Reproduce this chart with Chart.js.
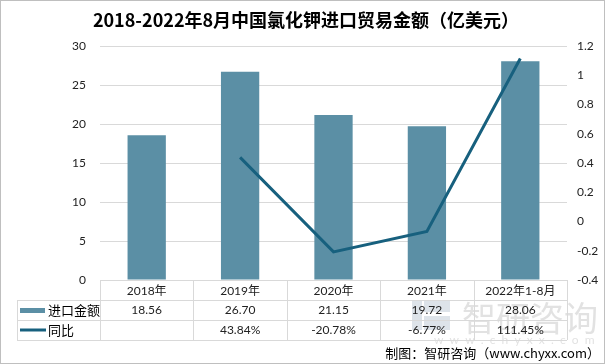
<!DOCTYPE html>
<html>
<head>
<meta charset="utf-8">
<script src="https://cdn.jsdelivr.net/npm/chart.js@4.4.1/dist/chart.umd.min.js"></script>
<style>
	html, body { margin: 0; padding: 0; background: #fff; }
	#wrap { width: 605px; height: 364px; }
</style>
</head>
<body>
<div id="wrap"><canvas id="c" width="605" height="364"></canvas></div>
<script>
// data
var years	= ["2018年", "2019年", "2020年", "2021年", "2022年1-8月"];
var importValue	= [18.56, 26.70, 21.15, 19.72, 28.06];	// 亿美元
var yoy		= [null, 43.84, -20.78, -6.77, 111.45];	// %
var seriesNames	= ["进口金额", "同比"];
var titleText	= "2018-2022年8月中国氯化钾进口贸易金额（亿美元）";
var sourceText	= "制图：智研咨询（www.chyxx.com）";

var barColor	= "#5B8FA5";
var lineColor	= "#17607E";
var gridColor	= "#D9D9D9";
var font	= "Lato, 'Noto Sans CJK SC', sans-serif";

var yoyRatio = yoy.map(function(v) { return v === null ? null : v / 100; });

function fmt2(v) { return v.toFixed(2); }

// title, data table, watermark, source note
var decor = {
	id: "decor",
	afterDraw: function(chart) {
		var ctx	= chart.ctx;
		var area	= chart.chartArea;
		var x	= chart.scales.x;
		var n	= years.length;
		var step	= (area.right - area.left) / n;
		var rowTop	= area.bottom;
		var rowH	= [20, 20, 20];
		var y1 = rowTop + rowH[0], y2 = y1 + rowH[1], y3 = y2 + rowH[2];
		var tableLeft = 17;

		ctx.save();

		// outer frame
		ctx.strokeStyle = "#BFBFBF";
		ctx.lineWidth = 1;
		ctx.strokeRect(0.5, 0.5, chart.width - 1, chart.height - 1);

		// title
		ctx.fillStyle = "#000";
		ctx.font = "bold 18px 'Noto Sans CJK SC', sans-serif";
		ctx.textAlign = "center";
		ctx.textBaseline = "middle";
		ctx.fillText(titleText, 306, 20);

		// watermark
		ctx.fillStyle = "rgba(190,190,190,0.45)";
		ctx.font = "34px 'Noto Sans CJK SC', sans-serif";
		ctx.textAlign = "left";
		ctx.fillText("智研咨询", 462, 318);
		ctx.font = "12px " + font;
		ctx.fillText("w  w  w  .  c  h  y  x  x  .  c  o  m", 434, 340);
		ctx.fillStyle = "rgba(170,185,200,0.4)";
		ctx.fillRect(412, 300, 10, 30);
		ctx.fillRect(424, 300, 26, 12);
		ctx.fillRect(424, 316, 26, 14);

		// table grid
		ctx.strokeStyle = gridColor;
		ctx.lineWidth = 1;
		ctx.beginPath();
		var i, cx;
		for (i = 0; i <= n; i++) {
			cx = Math.round(area.left + i * step) + 0.5;
			ctx.moveTo(cx, rowTop);
			ctx.lineTo(cx, y3);
		}
		ctx.moveTo(tableLeft + 0.5, y1);
		ctx.lineTo(tableLeft + 0.5, y3);
		[y1, y2, y3].forEach(function(yy) {
			ctx.moveTo(tableLeft, Math.round(yy) + 0.5);
			ctx.lineTo(area.right, Math.round(yy) + 0.5);
		});
		ctx.moveTo(area.left, Math.round(rowTop) + 0.5);
		ctx.lineTo(area.right, Math.round(rowTop) + 0.5);
		ctx.stroke();

		// header + values
		ctx.fillStyle = "#222";
		ctx.font = "12px " + font;
		ctx.textAlign = "center";
		ctx.textBaseline = "middle";
		for (i = 0; i < n; i++) {
			cx = x.getPixelForValue(i);
			ctx.fillText(years[i], cx, rowTop + rowH[0] / 2 + 1);
			ctx.fillText(fmt2(importValue[i]), cx, y1 + rowH[1] / 2);
			if (yoy[i] !== null) ctx.fillText(fmt2(yoy[i]) + "%", cx, y2 + rowH[2] / 2);
		}

		// legend keys
		ctx.fillStyle = barColor;
		ctx.fillRect(20, y1 + 8, 25, 5);
		ctx.strokeStyle = lineColor;
		ctx.lineWidth = 3;
		ctx.beginPath();
		ctx.moveTo(20, y2 + 10);
		ctx.lineTo(46, y2 + 10);
		ctx.stroke();
		ctx.fillStyle = "#000";
		ctx.font = "13px 'Noto Sans CJK SC', sans-serif";
		ctx.textAlign = "left";
		ctx.fillText(seriesNames[0], 48, y1 + rowH[1] / 2);
		ctx.fillText(seriesNames[1], 48, y2 + rowH[2] / 2);

		// source
		ctx.textAlign = "right";
		ctx.font = "13px 'Noto Sans CJK SC', sans-serif";
		ctx.fillText(sourceText, 600, 353);

		ctx.restore();
	}
};

window.onload = function() {
	new Chart(document.getElementById("c"), {
		data: {
			labels: years,
			datasets: [
				{
					type: "line",
					label: seriesNames[1],
					data: yoyRatio,
					yAxisID: "y1",
					borderColor: lineColor,
					borderWidth: 3,
					pointRadius: 0,
					tension: 0,
					spanGaps: false,
					order: 0
				},
				{
					type: "bar",
					label: seriesNames[0],
					data: importValue,
					yAxisID: "y",
					backgroundColor: barColor,
					categoryPercentage: 1,
					barPercentage: 0.41,
					order: 1
				}
			]
		},
		options: {
			responsive: false,
			animation: false,
			layout: { padding: { top: 46, bottom: 84, left: 0, right: 0 } },
			plugins: {
				legend: { display: false },
				title: { display: false },
				tooltip: { enabled: false }
			},
			scales: {
				x: { display: false, offset: true },
				y: {
					position: "left",
					min: 0, max: 30,
					ticks: { stepSize: 5, padding: 14, color: "#222", font: { size: 12, family: font } },
					grid: { color: gridColor, drawTicks: false },
					border: { display: false },
					afterFit: function(s) { s.width = 100; }
				},
				y1: {
					position: "right",
					min: -0.4, max: 1.2,
					ticks: {
						stepSize: 0.2, padding: 10, color: "#222", font: { size: 12, family: font },
						callback: function(v) { return String(Number(v.toFixed(1))); }
					},
					grid: { display: false, drawTicks: false },
					border: { display: false },
					afterFit: function(s) { s.width = 38; }
				}
			}
		},
		plugins: [decor]
	});
};
</script>
</body>
</html>
